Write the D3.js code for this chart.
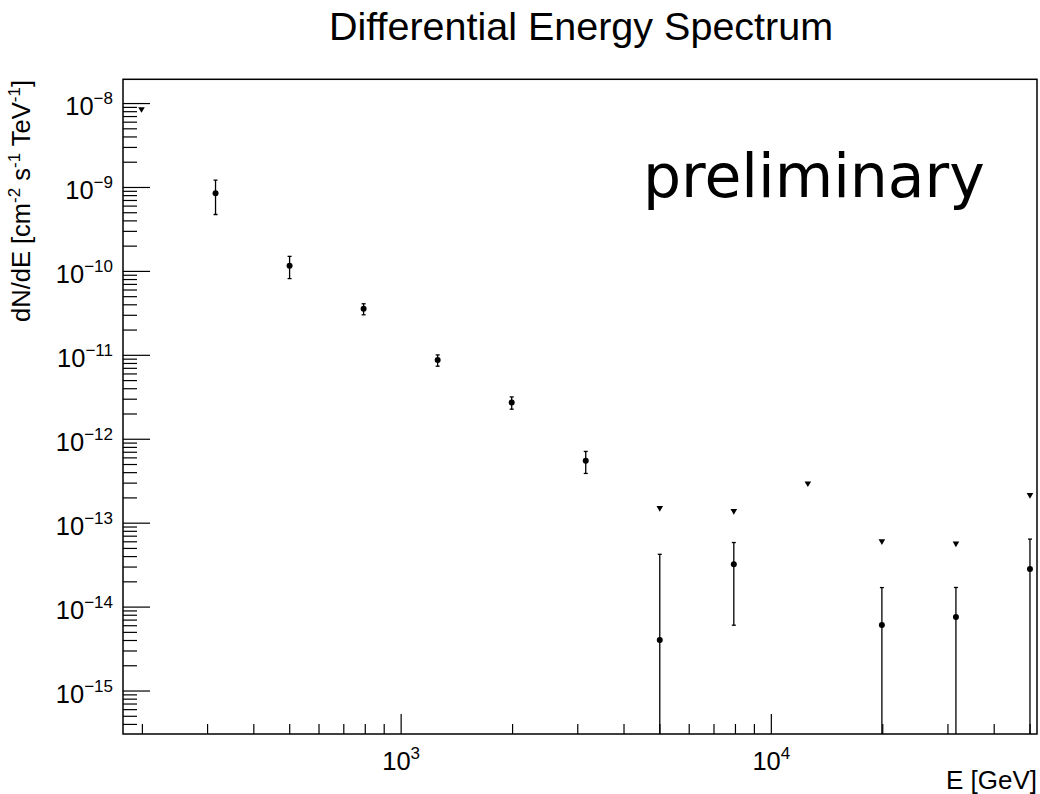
<!DOCTYPE html>
<html>
<head>
<meta charset="utf-8">
<script src="https://cdn.jsdelivr.net/npm/d3@7"></script>
<style>
  body { margin: 0; background: #fff; }
  svg { display: block; }
  text { font-family: "Liberation Sans", Arial, sans-serif; fill: #000; }
</style>
</head>
<body>
<svg id="chart" width="1040" height="794"></svg>
<script>
// measured points (GeV, cm^-2 s^-1 TeV^-1)
var energies = [316.2, 501.2, 794.3, 1258.9, 1995.3, 3162.3, 5011.9, 7943.3, 19952.6, 31622.8, 50118.7];
var flux = [8.4e-10, 1.15e-10, 3.53e-11, 8.65e-12, 2.7e-12, 5.46e-13, 4.0e-15, 3.2e-14, 6.05e-15, 7.5e-15, 2.8e-14];
var fluxErr = [3.7e-10, 3.4e-11, 5.3e-12, 1.33e-12, 4.5e-13, 1.6e-13, 3.8e-14, 2.6e-14, 1.08e-14, 9.4e-15, 3.57e-14];

// upper limits
var ulEnergies = [199.5, 5011.9, 7943.3, 12589.3, 19952.6, 31622.8, 50118.7];
var ulFlux = [8.3e-9, 1.47e-13, 1.35e-13, 2.88e-13, 5.9e-14, 5.55e-14, 2.1e-13];

var xDecades = [1e3, 1e4];
var yDecades = [1e-15, 1e-14, 1e-13, 1e-12, 1e-11, 1e-10, 1e-9, 1e-8];

var xDomain = [Math.pow(10, 2.25), Math.pow(10, 4.719)];
var yDomain = [Math.pow(10, -15.518), Math.pow(10, -7.717)];

(function() {
  "use strict";

  var svg = d3.select("#chart"),
    left = 123, right = 1037, top = 79.3, bottom = 734;

  var x = d3.scaleLog().domain(xDomain).range([left, right]);
  var y = d3.scaleLog().domain(yDomain).range([bottom, top]);

  function minorTicks(scale) {
    var d = scale.domain(), out = [];
    var lo = Math.floor(Math.log10(d[0])), hi = Math.ceil(Math.log10(d[1]));
    for (var p = lo; p <= hi; p++) {
      for (var m = 2; m <= 9; m++) {
        var v = m * Math.pow(10, p);
        if (v >= d[0] && v <= d[1]) out.push(v);
      }
    }
    return out;
  }

  // title
  svg.append("text")
    .attr("x", (left + right) / 2 + 1)
    .attr("y", 39.5)
    .attr("text-anchor", "middle")
    .style("font-size", "39.5px")
    .text("Differential Energy Spectrum");

  // ticks
  var gx = svg.append("g").attr("transform", "translate(0," + bottom + ")");
  gx.append("g").call(d3.axisBottom(x).tickValues(minorTicks(x)).tickSize(-10).tickFormat(""));
  gx.append("g").attr("class", "major").call(d3.axisBottom(x).tickValues(xDecades).tickSize(-20).tickFormat(""));

  var gy = svg.append("g").attr("transform", "translate(" + left + ",0)");
  gy.append("g").call(d3.axisLeft(y).tickValues(minorTicks(y)).tickSize(-14).tickFormat(""));
  gy.append("g").attr("class", "major").call(d3.axisLeft(y).tickValues(yDecades).tickSize(-27).tickFormat(""));

  svg.selectAll(".domain").remove();
  svg.selectAll(".tick line").attr("stroke", "#000").attr("stroke-width", 1.2);

  // tick labels as 10^n
  gx.select(".major").selectAll(".tick").append("text")
    .attr("y", 36)
    .attr("dy", 0)
    .attr("text-anchor", "middle")
    .style("font-size", "25.5px")
    .each(function(d) {
      var t = d3.select(this);
      t.append("tspan").text("10");
      t.append("tspan").attr("dy", -11).style("font-size", "17px").text(Math.round(Math.log10(d)));
    });

  gy.select(".major").selectAll(".tick").append("text")
    .attr("x", -10)
    .attr("y", 11.5)
    .attr("dy", 0)
    .attr("text-anchor", "end")
    .style("font-size", "25.5px")
    .each(function(d) {
      var t = d3.select(this);
      t.append("tspan").text("10");
      t.append("tspan").attr("dy", -11).style("font-size", "17px")
        .text("\u2212" + Math.abs(Math.round(Math.log10(d))));
    });

  // axis titles
  svg.append("text")
    .attr("x", right)
    .attr("y", 789)
    .attr("text-anchor", "end")
    .style("font-size", "26px")
    .text("E [GeV]");

  var yt = svg.append("text")
    .attr("transform", "translate(30," + 80 + ") rotate(-90)")
    .attr("text-anchor", "end")
    .style("font-size", "25.5px");
  yt.append("tspan").text("dN/dE [cm");
  yt.append("tspan").attr("dy", -10).style("font-size", "17px").text("-2");
  yt.append("tspan").attr("dy", 10).text(" s");
  yt.append("tspan").attr("dy", -10).style("font-size", "17px").text("-1");
  yt.append("tspan").attr("dy", 10).text(" TeV");
  yt.append("tspan").attr("dy", -10).style("font-size", "17px").text("-1");
  yt.append("tspan").attr("dy", 10).text("]");

  // preliminary
  svg.append("text")
    .attr("x", 643)
    .attr("y", 197)
    .style("font-family", "'DejaVu Sans', sans-serif")
    .style("font-size", "60px")
    .text("preliminary");

  // data
  svg.append("clipPath").attr("id", "frame-clip")
    .append("rect").attr("x", left).attr("y", top)
    .attr("width", right - left).attr("height", bottom - top);

  var plot = svg.append("g").attr("clip-path", "url(#frame-clip)");

  var points = energies.map(function(e, i) {
    return {e: e, v: flux[i], err: fluxErr[i]};
  });

  var bars = plot.selectAll(".errbar").data(points).enter().append("g").attr("class", "errbar");
  bars.each(function(d) {
    var g = d3.select(this),
      cx = x(d.e),
      hi = y(d.v + d.err),
      loVal = d.v - d.err,
      clipped = loVal <= yDomain[0],
      lo = clipped ? bottom : y(loVal);
    g.append("line").attr("x1", cx).attr("x2", cx).attr("y1", hi).attr("y2", lo)
      .attr("stroke", "#000").attr("stroke-width", 1.3);
    g.append("line").attr("x1", cx - 2).attr("x2", cx + 2).attr("y1", hi).attr("y2", hi)
      .attr("stroke", "#000").attr("stroke-width", 1.3);
    if (!clipped) {
      g.append("line").attr("x1", cx - 2).attr("x2", cx + 2).attr("y1", lo).attr("y2", lo)
        .attr("stroke", "#000").attr("stroke-width", 1.3);
    }
  });

  plot.selectAll(".pt").data(points).enter().append("circle")
    .attr("class", "pt")
    .attr("cx", function(d) { return x(d.e); })
    .attr("cy", function(d) { return y(d.v); })
    .attr("r", 3)
    .attr("fill", "#000");

  plot.selectAll(".ul").data(ulEnergies).enter().append("path")
    .attr("class", "ul")
    .attr("transform", function(d, i) { return "translate(" + x(d) + "," + y(ulFlux[i]) + ")"; })
    .attr("d", "M-3.3,-2.7L3.3,-2.7L0,3Z")
    .attr("fill", "#000");

  // frame
  svg.append("rect")
    .attr("x", left).attr("y", top)
    .attr("width", right - left).attr("height", bottom - top)
    .attr("fill", "none")
    .attr("stroke", "#000")
    .attr("stroke-width", 1.5);
})();
</script>
</body>
</html>
